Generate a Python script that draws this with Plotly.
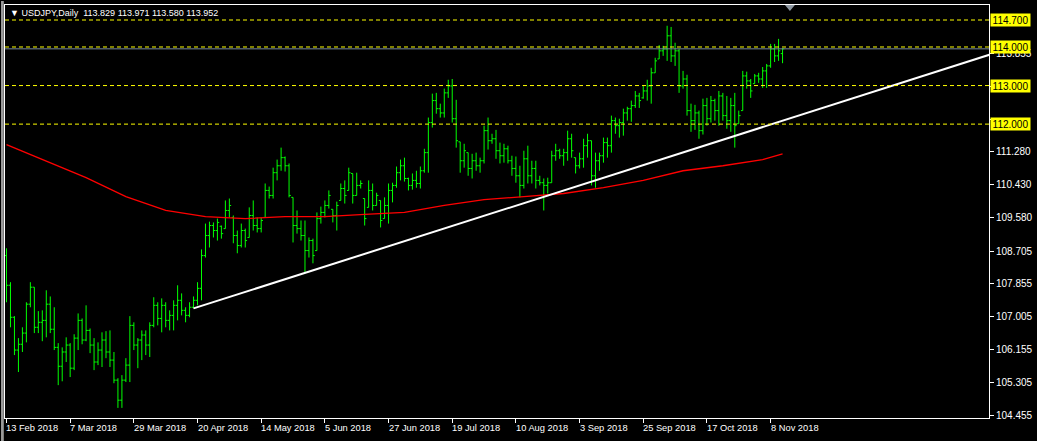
import plotly.graph_objects as go
import pandas as pd

# ---------------- data (USDJPY daily) ----------------
dates = pd.bdate_range("2018-02-13", periods=196).strftime("%d %b %Y").tolist()

open_ = [
    108.59, 107.82, 106.99, 106.14, 106.29, 106.58, 107.33, 107.77, 106.73, 106.86,
    106.91, 107.33, 106.68, 106.21, 105.72, 106.09, 106.27, 105.67, 106.45, 106.91,
    106.40, 106.65, 106.27, 105.83, 106.14, 106.40, 106.09, 105.88, 105.36, 104.84,
    105.36, 105.75, 106.78, 106.27, 106.40, 106.53, 106.27, 106.78, 107.30, 106.96,
    107.30, 106.91, 107.04, 107.30, 107.43, 107.17, 107.04, 107.25, 107.43, 107.74,
    108.59, 109.11, 109.37, 109.24, 109.35, 109.29, 109.76, 109.58, 109.11, 108.85,
    109.24, 109.06, 109.63, 109.37, 109.29, 109.58, 110.28, 110.15, 110.74, 110.92,
    111.13, 110.92, 110.10, 109.37, 109.29, 109.11, 108.72, 108.98, 108.72, 109.55,
    109.71, 109.89, 109.79, 109.63, 110.02, 110.33, 110.28, 110.72, 110.15, 110.41,
    110.07, 109.84, 110.28, 109.89, 110.02, 109.55, 109.89, 110.28, 110.41, 110.74,
    110.92, 110.59, 110.41, 110.54, 110.46, 110.79, 111.26, 112.04, 112.61, 112.40,
    112.29, 112.81, 112.99, 112.14, 111.54, 111.05, 111.26, 110.85, 111.05, 110.92,
    111.05, 111.83, 111.57, 111.62, 111.31, 111.18, 111.36, 111.05, 110.85, 110.66,
    110.41, 111.10, 110.66, 110.85, 110.54, 110.48, 110.41, 110.48, 111.18, 111.31,
    111.18, 111.26, 111.62, 111.13, 110.92, 111.10, 111.44, 111.57, 110.66, 111.05,
    111.18, 111.52, 111.44, 112.09, 111.96, 112.04, 112.29, 112.40, 112.48, 112.73,
    112.68, 112.86, 112.99, 113.33, 113.69, 113.90, 113.95, 114.29, 113.77, 113.90,
    112.99, 113.17, 112.35, 112.09, 112.29, 111.83, 112.48, 112.14, 112.61, 112.35,
    112.73, 112.22, 112.09, 112.48, 112.01, 112.35, 113.25, 113.12, 113.05, 113.25,
    113.17, 113.38, 113.51, 113.95, 113.77, 113.829]

high = [
    108.78, 107.90, 107.02, 106.45, 106.73, 107.38, 107.90, 107.77, 107.15, 107.17,
    107.69, 107.53, 107.25, 106.32, 106.21, 106.47, 106.32, 106.55, 107.09, 106.96,
    107.30, 106.70, 106.45, 106.34, 106.60, 106.63, 106.65, 106.09, 105.41, 105.49,
    105.93, 107.02, 106.86, 106.45, 106.65, 106.65, 106.86, 107.51, 107.38, 107.48,
    107.38, 107.17, 107.43, 107.82, 107.61, 107.25, 107.38, 107.53, 107.90, 108.75,
    109.42, 109.47, 109.45, 109.55, 109.37, 110.02, 110.07, 109.63, 109.24, 109.42,
    109.29, 109.84, 110.02, 109.58, 109.58, 110.46, 110.38, 110.87, 111.08, 111.39,
    111.16, 110.98, 110.10, 109.76, 109.50, 109.50, 109.06, 109.03, 109.71, 109.86,
    110.02, 110.28, 109.79, 109.99, 110.46, 110.54, 110.87, 110.72, 110.74, 110.54,
    110.07, 110.54, 110.46, 110.22, 110.02, 110.10, 110.46, 110.48, 110.90, 111.08,
    111.13, 110.61, 110.72, 110.79, 110.90, 111.36, 112.17, 112.79, 112.81, 112.53,
    112.92, 113.15, 113.17, 112.63, 111.54, 111.49, 111.26, 111.23, 111.26, 111.13,
    111.96, 112.17, 111.75, 111.85, 111.52, 111.49, 111.44, 111.18, 111.16, 110.92,
    111.31, 111.44, 111.05, 111.05, 110.66, 110.59, 110.61, 111.31, 111.49, 111.36,
    111.36, 111.83, 111.75, 111.13, 111.26, 111.62, 111.75, 111.57, 111.26, 111.26,
    111.65, 111.65, 112.22, 112.17, 112.14, 112.40, 112.45, 112.61, 112.86, 112.81,
    112.99, 113.15, 113.46, 113.72, 114.05, 114.03, 114.55, 114.52, 114.11, 113.95,
    113.38, 113.28, 112.53, 112.50, 112.35, 112.66, 112.68, 112.73, 112.66, 112.86,
    112.81, 112.73, 112.68, 112.81, 112.35, 113.38, 113.36, 113.17, 113.30, 113.33,
    113.48, 113.56, 114.08, 114.08, 114.21, 113.971]

low = [
    107.38, 106.73, 106.01, 105.57, 106.09, 106.34, 107.25, 106.58, 106.58, 106.37,
    106.47, 106.58, 106.14, 105.23, 105.33, 105.83, 105.44, 105.62, 106.14, 106.29,
    106.37, 106.06, 105.62, 105.75, 105.70, 105.93, 105.70, 105.28, 104.64, 104.64,
    105.31, 105.31, 106.14, 105.67, 105.88, 106.01, 105.96, 106.73, 106.78, 106.60,
    106.73, 106.65, 106.65, 106.91, 107.04, 106.86, 106.99, 107.22, 107.30, 107.43,
    108.54, 108.80, 109.06, 108.98, 109.03, 109.29, 109.58, 108.91, 108.65, 108.80,
    108.80, 109.06, 109.24, 109.19, 109.19, 109.58, 110.07, 110.07, 110.54, 110.79,
    110.77, 110.10, 108.93, 109.16, 108.98, 108.13, 108.54, 108.39, 108.72, 109.42,
    109.58, 109.81, 109.45, 109.24, 110.02, 109.94, 110.28, 109.94, 110.15, 110.33,
    109.37, 109.84, 109.76, 109.89, 109.32, 109.55, 109.42, 109.97, 110.35, 110.54,
    110.51, 110.28, 110.30, 110.35, 110.33, 110.74, 110.74, 111.91, 112.27, 112.17,
    112.17, 112.68, 112.04, 111.39, 110.74, 110.87, 110.66, 110.59, 110.79, 110.74,
    110.98, 111.34, 111.49, 111.10, 110.98, 111.00, 110.98, 110.66, 110.48, 110.10,
    110.33, 110.46, 110.46, 110.33, 110.41, 109.76, 110.20, 110.48, 111.05, 111.10,
    110.92, 111.05, 111.13, 110.72, 110.85, 110.87, 111.13, 110.41, 110.35, 110.79,
    111.00, 111.13, 111.26, 111.75, 111.65, 111.70, 112.09, 112.06, 112.42, 112.42,
    112.66, 112.61, 112.53, 113.33, 113.69, 113.77, 113.64, 113.61, 113.51, 112.81,
    112.92, 112.22, 111.80, 111.85, 111.62, 111.73, 111.96, 112.04, 112.09, 111.96,
    112.09, 111.88, 111.80, 111.39, 112.01, 112.35, 112.92, 112.68, 113.05, 113.07,
    112.94, 112.94, 113.46, 113.61, 113.64, 113.580]

close = [
    107.82, 106.99, 106.14, 106.29, 106.58, 107.33, 107.77, 106.73, 106.86, 106.91,
    107.33, 106.68, 106.21, 105.72, 106.09, 106.27, 105.67, 106.45, 106.91, 106.40,
    106.65, 106.27, 105.83, 106.14, 106.40, 106.09, 105.88, 105.36, 104.84, 105.36,
    105.75, 106.78, 106.27, 106.40, 106.53, 106.27, 106.78, 107.30, 106.96, 107.30,
    106.91, 107.04, 107.30, 107.43, 107.17, 107.04, 107.25, 107.43, 107.74, 108.59,
    109.11, 109.37, 109.24, 109.45, 109.16, 109.76, 109.89, 109.11, 108.85, 109.24,
    108.98, 109.63, 109.37, 109.29, 109.50, 110.28, 110.15, 110.74, 110.92, 111.13,
    110.92, 110.15, 109.37, 109.29, 109.11, 108.72, 108.98, 108.59, 109.55, 109.71,
    109.89, 110.15, 109.63, 109.89, 110.33, 110.15, 110.74, 110.15, 110.41, 110.46,
    109.55, 110.28, 109.89, 110.15, 109.50, 109.89, 110.28, 110.41, 110.74, 110.92,
    110.59, 110.41, 110.54, 110.46, 110.79, 111.26, 112.04, 112.61, 112.40, 112.29,
    112.81, 112.99, 112.14, 111.57, 111.05, 111.31, 110.85, 111.05, 110.92, 111.05,
    111.83, 111.57, 111.62, 111.31, 111.18, 111.36, 111.05, 110.85, 110.66, 110.41,
    111.10, 110.66, 110.85, 110.54, 110.48, 110.41, 110.48, 111.18, 111.31, 111.18,
    111.26, 111.62, 111.31, 110.92, 111.10, 111.44, 111.57, 110.66, 111.05, 111.18,
    111.52, 111.44, 112.09, 111.96, 112.04, 112.29, 112.40, 112.48, 112.73, 112.61,
    112.86, 112.99, 113.33, 113.64, 113.90, 113.95, 114.29, 113.77, 113.90, 112.99,
    113.17, 112.35, 112.09, 112.29, 111.83, 112.48, 112.14, 112.61, 112.35, 112.73,
    112.22, 112.09, 112.48, 111.96, 112.22, 113.25, 113.12, 112.86, 113.25, 113.17,
    113.38, 113.51, 113.95, 113.77, 113.90, 113.952]

# moving average (red) at bar indexes
ma_idx = [0, 10, 20, 30, 40, 50, 60, 70, 80, 90, 100, 110, 120, 130, 140, 150, 160, 170, 180, 190, 195]
ma_val = [111.47, 111.05, 110.61, 110.12, 109.76, 109.60, 109.55, 109.60, 109.60, 109.66, 109.71,
          109.89, 110.04, 110.12, 110.20, 110.35, 110.54, 110.79, 110.92, 111.08, 111.23]

# trend line anchors (bar index, price)
trend_idx = [47, 247]
trend_val = [107.22, 113.80]

# horizontal levels
levels = [114.700, 114.000, 113.000, 112.000]
bid_price = 113.952

# axis ticks
ytick_vals = [104.455, 105.305, 106.155, 107.005, 107.855, 108.705, 109.580, 110.430,
              111.280, 112.130, 112.980, 113.830]
ytick_text = ["104.455", "105.305", "106.155", "107.005", "107.855", "108.705", "109.580",
              "110.430", "111.280", "", "", "113.855"]
xlabel_idx = [0, 16, 32, 48, 64, 80, 96, 112, 128, 144, 160, 176, 192]
xlabel_text = ["13 Feb 2018", "7 Mar 2018", "29 Mar 2018", "20 Apr 2018", "14 May 2018",
               "5 Jun 2018", "27 Jun 2018", "19 Jul 2018", "10 Aug 2018", "3 Sep 2018",
               "25 Sep 2018", "17 Oct 2018", "8 Nov 2018"]

assert len(open_) == len(high) == len(low) == len(close) == len(dates), (
    len(open_), len(high), len(low), len(close))

# ---------------- figure ----------------
BAR = "#00ff00"
FONT = "Liberation Sans"
idx = list(range(len(close)))

fig = go.Figure()
fig.add_trace(go.Ohlc(
    x=idx, open=open_, high=high, low=low, close=close,
    increasing=dict(line=dict(color=BAR, width=1)),
    decreasing=dict(line=dict(color=BAR, width=1)),
    tickwidth=0.45, text=dates, hoverinfo="text+y", showlegend=False))
fig.add_trace(go.Scatter(x=ma_idx, y=ma_val, mode="lines",
                         line=dict(color="#ff0000", width=1.3),
                         hoverinfo="skip", showlegend=False))
fig.add_trace(go.Scatter(x=trend_idx, y=trend_val, mode="lines",
                         line=dict(color="#ffffff", width=2),
                         hoverinfo="skip", showlegend=False))

shapes = []
for lv in levels:
    shapes.append(dict(type="line", xref="paper", x0=0, x1=1, yref="y", y0=lv, y1=lv,
                       line=dict(color="#ffff00", width=1, dash="4px,3px")))
shapes.append(dict(type="line", xref="paper", x0=0, x1=1, yref="y", y0=bid_price, y1=bid_price,
                   line=dict(color="#778899", width=1)))
# chart-shift marker
shapes.append(dict(type="path", xref="x", yref="paper",
                   path="M 195.6,1.0 L 198.1,1.0 L 196.85,0.9855 Z",
                   fillcolor="#8c96a0", line=dict(width=0)))
# left window frame
shapes.append(dict(type="rect", xref="paper", yref="paper",
                   x0=-4 / 989, x1=-1.2 / 989, y0=-23 / 414, y1=1 + 4 / 414,
                   fillcolor="#9a9a9a", line=dict(width=0)))

annotations = []
for i, lab in zip(xlabel_idx, xlabel_text):
    annotations.append(dict(x=i, xref="x", y=0, yref="paper", xanchor="left", yanchor="top",
                            xshift=-2, yshift=-3, text=lab, showarrow=False,
                            font=dict(family=FONT, size=9.3, color="#ffffff")))
for lv in levels:
    annotations.append(dict(x=1, xref="paper", y=lv, yref="y", xanchor="left", yanchor="middle",
                            xshift=1, text=f"{lv:.3f}", showarrow=False, bgcolor="#ffff00",
                            borderpad=0, width=39, height=12,
                            font=dict(family=FONT, size=10, color="#000000")))
header = ("\u25bc USDJPY,Daily&nbsp;&nbsp;"
          f"{open_[-1]:.3f} {high[-1]:.3f} {low[-1]:.3f} {close[-1]:.3f}")
annotations.append(dict(x=0, xref="paper", y=1, yref="paper", xanchor="left", yanchor="top",
                        xshift=3, yshift=-1, text=header, showarrow=False,
                        font=dict(family=FONT, size=9, color="#ffffff")))

fig.update_layout(
    width=1037, height=441,
    margin=dict(l=4, r=44, t=4, b=23, pad=0),
    paper_bgcolor="#000000", plot_bgcolor="#000000",
    font=dict(family=FONT, size=10, color="#ffffff"),
    showlegend=False,
    shapes=shapes, annotations=annotations,
    xaxis=dict(range=[-0.375, 246.875], showgrid=False, zeroline=False,
               showline=True, linecolor="#ffffff", linewidth=1, mirror=True,
               ticks="outside", ticklen=4, tickcolor="#ffffff", tickwidth=1,
               tickvals=xlabel_idx, showticklabels=False,
               rangeslider=dict(visible=False), fixedrange=True),
    yaxis=dict(range=[104.378, 115.089], side="right", showgrid=False, zeroline=False,
               showline=True, linecolor="#ffffff", linewidth=1, mirror=True,
               ticks="outside", ticklen=4, tickcolor="#ffffff", tickwidth=1,
               tickvals=ytick_vals, ticktext=ytick_text,
               tickfont=dict(family=FONT, size=10, color="#ffffff"), fixedrange=True),
)

post = "document.body.style.margin='0';document.body.style.background='#000';"
fig.write_html("out.html", config={"displayModeBar": False}, post_script=post)
